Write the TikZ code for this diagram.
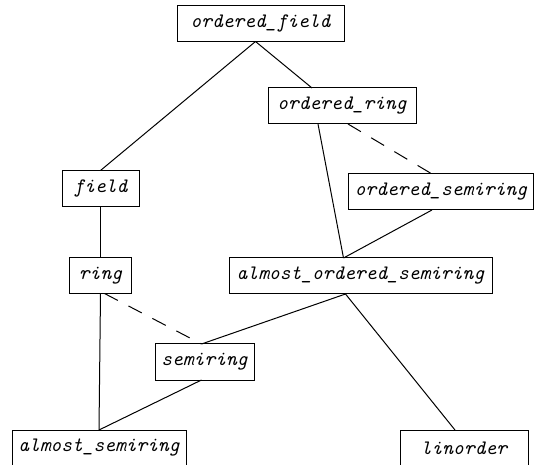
\documentclass[tikz,border=0pt]{standalone}
\usepackage{tikz}
\usetikzlibrary{arrows}

\begin{document}
\begin{tikzpicture}[x=1pt,y=-1pt,line width=1pt,
  class node/.style={rectangle,draw,inner sep=0pt,outer sep=0pt,minimum height=36pt,
    font=\ttfamily\itshape\fontsize{20.5}{20.5}\selectfont},
  dash edge/.style={dash pattern=on 15pt off 12pt}]

  \useasboundingbox (0,0) rectangle (536,465);

  \node[class node,minimum width=167pt] (of) at (260.5,23.5) {ordered\_field};
  \node[class node,minimum width=148pt] (or) at (342,106) {ordered\_ring};
  \node[class node,minimum width=185pt] (os) at (441,192) {ordered\_semiring};
  \node[class node,minimum width=77pt] (f) at (100.5,188.5) {field};
  \node[class node,minimum width=62pt] (r) at (100.5,275.5) {ring};
  \node[class node,minimum width=263pt] (aos) at (360.5,276) {almost\_ordered\_semiring};
  \node[class node,minimum width=99pt] (s) at (204.5,362) {semiring};
  \node[class node,minimum width=174pt] (as) at (99,448) {almost\_semiring};
  \node[class node,minimum width=128pt] (lo) at (464,448) {linorder};

  \path
    ([xshift=-5pt]of.south) edge (f.north)
                            edge ([xshift=-30pt]or.north)
    ([xshift=-24pt]or.south) edge ([xshift=-17pt]aos.north)
    ([xshift=6pt]or.south) edge[dash edge] ([xshift=-9pt]os.north)
    ([xshift=-9pt]os.south) edge ([xshift=-17pt]aos.north)
    (f.south) edge (r.north)
    ([xshift=4pt]r.south) edge[dash edge] ([xshift=-3pt]s.north)
    (r.south) edge (as.north)
    ([xshift=-15pt]aos.south) edge ([xshift=-3pt]s.north)
                              edge ([xshift=-9pt]lo.north)
    ([xshift=-3pt]s.south) edge (as.north);
\end{tikzpicture}
\end{document}
